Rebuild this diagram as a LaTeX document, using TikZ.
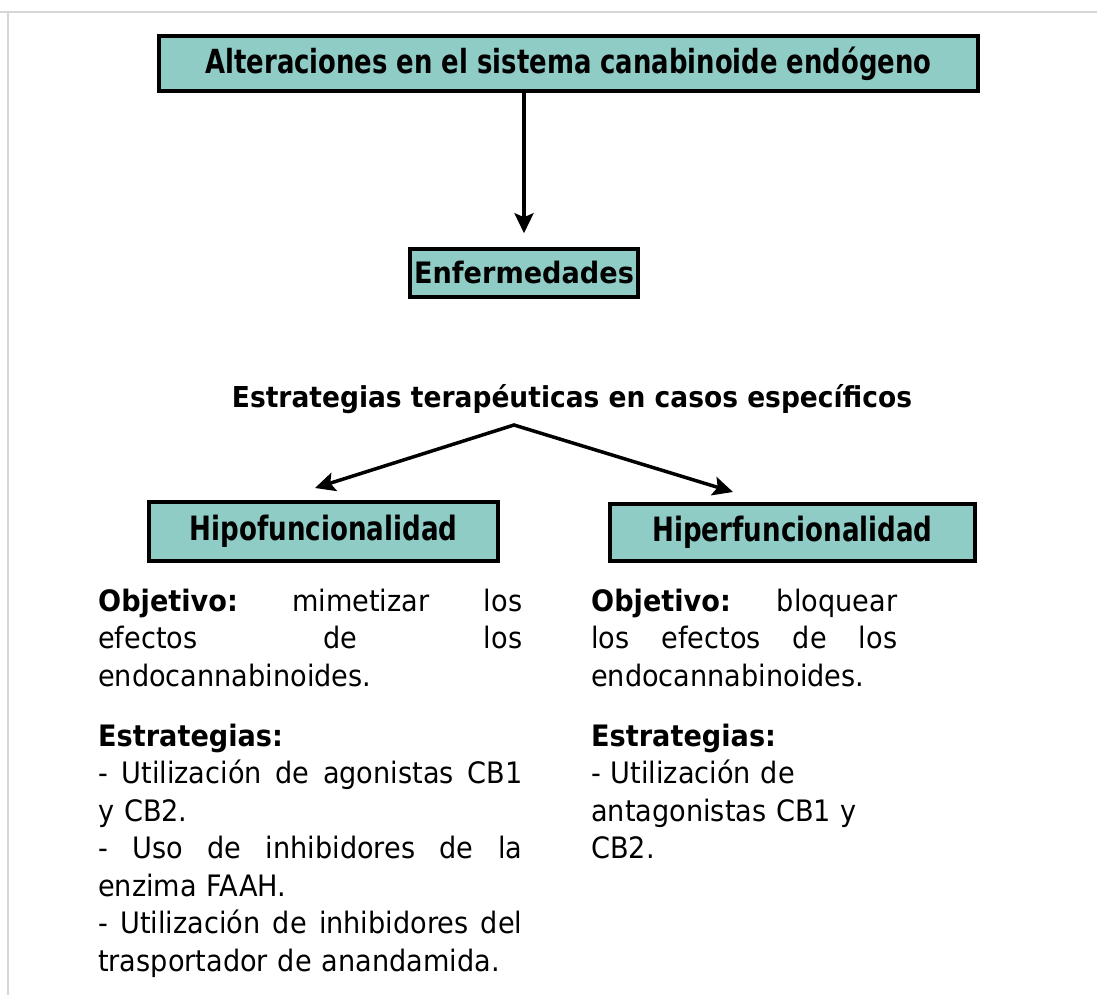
\documentclass[tikz,border=0pt]{standalone}
\usepackage{fontspec}
\setmainfont{DejaVu Sans}[FakeStretch=0.92]
\newfontfamily\boxfont{DejaVu Sans}[FakeStretch=0.78]
\usepackage{tikz}
\usetikzlibrary{arrows.meta}
\definecolor{boxfill}{RGB}{143,204,198}
\definecolor{framegray}{RGB}{214,214,214}
\newcommand{\jline}[2]{\makebox[#1][s]{\frenchspacing\spaceskip=0pt\xspaceskip=0pt\relax #2}}

\begin{document}
\begin{tikzpicture}[x=1pt,y=-1pt,
  box/.style={draw, fill=boxfill, line width=3.5pt, inner sep=0pt},
  txt/.style={anchor=base west, inner sep=0pt, align=left, font={\fontsize{29.5}{37.5}\selectfont}},
  >={Stealth[length=20pt,width=19pt,inset=4pt]}]
\useasboundingbox (0,0) rectangle (1097,995);
\draw [framegray, line width=2pt] (0,12) -- (1097,12);
\draw [framegray, line width=2pt] (8,12) -- (8,995);

\node [box, minimum width=819pt, minimum height=55pt, font={\boxfont\bfseries\fontsize{33.2}{40}\selectfont}] (alter) at (568.5,63.5) {Alteraciones en el sistema canabinoide endógeno};
\node [box, minimum width=228pt, minimum height=48pt, font={\bfseries\fontsize{29.5}{36}\selectfont}] (enf) at (524,273) {Enfermedades};
\node [anchor=base, inner sep=0pt, font={\bfseries\fontsize{28.8}{34}\selectfont}] (estr) at (572,407) {Estrategias terapéuticas en casos específicos};
\node [box, minimum width=349pt, minimum height=59pt, font={\boxfont\bfseries\fontsize{33.5}{40}\selectfont}] (hipo) at (323.5,531.5) {Hipofuncionalidad};
\node [box, minimum width=365pt, minimum height=57pt, font={\boxfont\bfseries\fontsize{33.5}{40}\selectfont}] (hiper) at (792.5,532.5) {Hiperfuncionalidad};

\path [->, line width=3.5pt] (alter.south -| enf.north) edge [shorten >=14pt] (enf.north);
\coordinate (fork) at (514,425);
\coordinate (hipotip) at (315,488);
\coordinate (hipertip) at (733,492);
\draw [<->, line width=3.5pt] (hipotip) -- (fork) -- (hipertip);

\node [txt, text width=424pt] (objhipo) at (98,611) {\jline{424pt}{\textbf{Objetivo:} mimetizar los}\\ \jline{424pt}{efectos de los}\\ endocannabinoides.};
\node [txt, text width=424pt] (esthipo) at (98,746) {\textbf{Estrategias:}\\ \jline{424pt}{- Utilización de agonistas CB1}\\ y CB2.\\ \jline{424pt}{- Uso de inhibidores de la}\\ enzima FAAH.\\ \jline{424pt}{- Utilización de inhibidores del}\\ trasportador de anandamida.};
\node [txt, text width=306pt] (objhiper) at (591,611) {\jline{306pt}{\textbf{Objetivo:} bloquear}\\ \jline{306pt}{los efectos de los}\\ endocannabinoides.};
\node [txt, text width=306pt] (esthiper) at (591,746) {\textbf{Estrategias:}\\ - Utilización de\\ antagonistas CB1 y\\ CB2.};
\end{tikzpicture}
\end{document}
